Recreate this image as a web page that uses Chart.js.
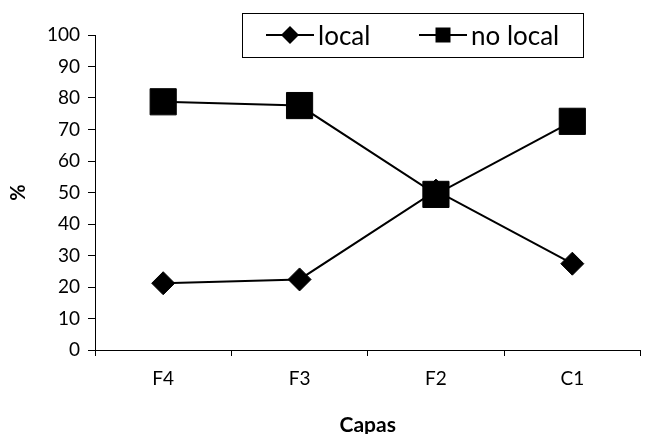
<!DOCTYPE html>
<html>
<head>
<meta charset="utf-8">
<script src="https://cdn.jsdelivr.net/npm/chart.js@4/dist/chart.umd.min.js"></script>
<style>
  html, body { margin: 0; padding: 0; background: #fff; overflow: hidden; }
  #wrap { width: 660px; height: 434px; }
</style>
</head>
<body>
<div id="wrap"><canvas id="c" width="660" height="434"></canvas></div>
<script>
// Layers (capas) along the x axis
const categories = ['F4', 'F3', 'F2', 'C1'];
// Percentage of local vs. non-local material per layer
const localValues = [21.2, 22.4, 50.6, 27.4];
const noLocalValues = [78.8, 77.6, 49.4, 72.6];
const seriesNames = ['local', 'no local'];
const yMin = 0, yMax = 100, yStep = 10;
const xTitle = 'Capas';
const yTitle = '%';

Chart.defaults.font.family = 'Lato, "DejaVu Sans", sans-serif';
Chart.defaults.color = '#000';

// Boxed legend showing each series' line with its marker
const boxedLegend = {
  id: 'boxedLegend',
  afterDraw(chart) {
    const ctx = chart.ctx;
    ctx.save();
    ctx.fillStyle = '#fff';
    ctx.fillRect(242.5, 13.5, 341, 44);
    ctx.strokeStyle = '#000';
    ctx.lineWidth = 1;
    ctx.strokeRect(242.5, 13.5, 341, 44);
    const slots = [266, 419];
    const y = 35;
    chart.data.datasets.forEach((ds, i) => {
      const x0 = slots[i];
      ctx.strokeStyle = '#000';
      ctx.lineWidth = 2;
      ctx.beginPath();
      ctx.moveTo(x0, y);
      ctx.lineTo(x0 + 48, y);
      ctx.stroke();
      const cx = x0 + 24;
      ctx.fillStyle = '#000';
      ctx.beginPath();
      if (ds.pointStyle === 'rectRot') {
        const r = 9;
        ctx.moveTo(cx - r, y);
        ctx.lineTo(cx, y - r);
        ctx.lineTo(cx + r, y);
        ctx.lineTo(cx, y + r);
        ctx.closePath();
      } else {
        ctx.rect(cx - 7.5, y - 7.5, 15, 15);
      }
      ctx.fill();
      ctx.font = '26px Lato, sans-serif';
      ctx.textBaseline = 'alphabetic';
      ctx.textAlign = 'left';
      ctx.fillText(ds.label, x0 + 52, 45);
    });
    ctx.restore();
  }
};

new Chart(document.getElementById('c'), {
  type: 'line',
  data: {
    labels: categories,
    datasets: [
      {
        label: seriesNames[0],
        data: localValues,
        borderColor: '#000',
        backgroundColor: '#000',
        borderWidth: 2,
        pointStyle: 'rectRot',
        pointRadius: 11.5,
        pointBorderWidth: 1,
        pointBackgroundColor: '#000',
        pointBorderColor: '#000',
        tension: 0,
        order: 1
      },
      {
        label: seriesNames[1],
        data: noLocalValues,
        borderColor: '#000',
        backgroundColor: '#000',
        borderWidth: 2,
        pointStyle: 'rect',
        pointRadius: 18.5,
        pointBorderWidth: 1,
        pointBackgroundColor: '#000',
        pointBorderColor: '#000',
        tension: 0,
        order: 0
      }
    ]
  },
  options: {
    responsive: false,
    animation: false,
    events: [],
    layout: { padding: { top: 35, right: 11, bottom: 0, left: 0 } },
    plugins: {
      legend: { display: false },
      tooltip: { enabled: false }
    },
    scales: {
      x: {
        type: 'category',
        offset: true,
        grid: {
          offset: true,
          drawOnChartArea: false,
          drawTicks: true,
          tickLength: 6,
          color: '#000',
          lineWidth: 1
        },
        border: { color: '#000', width: 1 },
        ticks: { font: { size: 19 }, padding: 11, color: '#000', maxRotation: 0 },
        title: {
          display: true,
          text: xTitle,
          font: { size: 21, weight: 'bold', lineHeight: 0.8 },
          padding: { top: 0, bottom: 0 },
          color: '#000'
        },
        afterFit(scale) { scale.height = 84; }
      },
      y: {
        min: yMin,
        max: yMax,
        ticks: { stepSize: yStep, font: { size: 19 }, padding: 8, color: '#000' },
        grid: {
          drawOnChartArea: false,
          drawTicks: true,
          tickLength: 7,
          color: '#000',
          lineWidth: 1
        },
        border: { color: '#000', width: 1 },
        title: {
          display: true,
          text: yTitle,
          font: { size: 20, weight: 'bold', lineHeight: 1 },
          padding: { top: 9, bottom: 0 },
          color: '#000'
        },
        afterFit(scale) { scale.width = 95; }
      }
    }
  },
  plugins: [boxedLegend]
});
</script>
</body>
</html>
